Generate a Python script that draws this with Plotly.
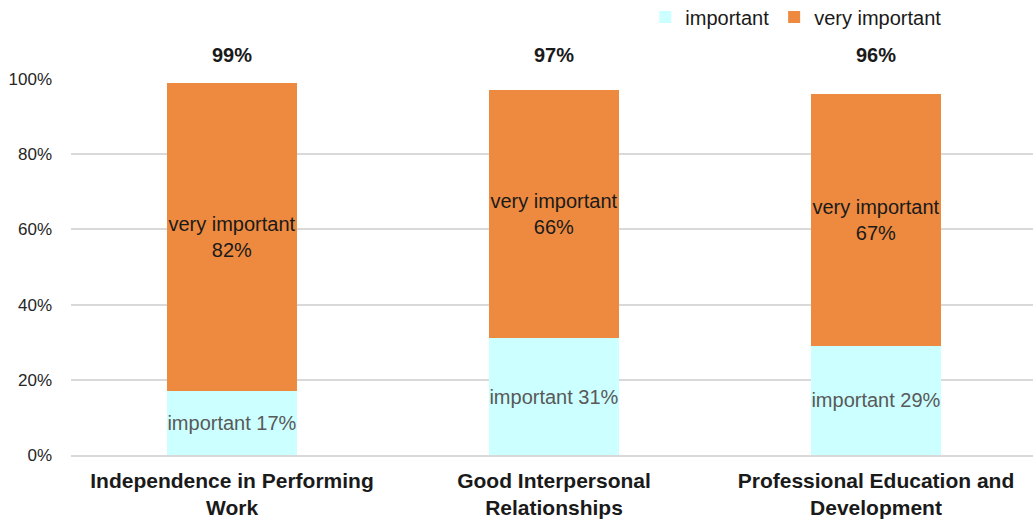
import plotly.graph_objects as go

categories = ["Independence in Performing<br>Work",
              "Good Interpersonal<br>Relationships",
              "Professional Education and<br>Development"]
important = [17, 31, 29]
very_important = [82, 66, 67]
totals = [99, 97, 96]
y_ticks = [0, 20, 40, 60, 80, 100]
y_tick_labels = ["0%", "20%", "40%", "60%", "80%", "100%"]

FONT = "Liberation Sans, Arial, sans-serif"

fig = go.Figure()
fig.add_trace(go.Bar(
    x=categories, y=important, name="important",
    marker=dict(color="#CCFFFF", line=dict(width=0)),
    width=0.404,
    text=[f"important {v}%" for v in important],
    textposition="inside", insidetextanchor="middle", textangle=0,
    constraintext="none",
    textfont=dict(family=FONT, size=20, color="#595959"),
    hoverinfo="skip",
))
fig.add_trace(go.Bar(
    x=categories, y=very_important, name="very important",
    marker=dict(color="#EE8A3F", line=dict(width=0)),
    width=0.404,
    text=[f"very important<br>{v}%" for v in very_important],
    textposition="inside", insidetextanchor="middle", textangle=0,
    constraintext="none",
    textfont=dict(family=FONT, size=20, color="#1a1a1a"),
    hoverinfo="skip",
))

for c, t in zip(categories, totals):
    fig.add_annotation(x=c, y=1.065, text=f"<b>{t}%</b>", showarrow=False,
                       font=dict(family=FONT, size=20, color="#1a1a1a"),
                       xref="x", yref="paper", yanchor="middle")

fig.update_layout(
    barmode="stack",
    width=1033, height=520,
    margin=dict(l=71, r=0, t=79, b=65),
    paper_bgcolor="white", plot_bgcolor="white",
    font=dict(family=FONT, color="#1a1a1a"),
    legend=dict(orientation="h", x=0.597, y=1 - 17 / 520, yref="container",
                xanchor="left", yanchor="middle",
                font=dict(family=FONT, size=20, color="#1a1a1a"),
                traceorder="normal", itemwidth=30),
    xaxis=dict(range=[-0.5, 2.4876], showgrid=False, showline=True,
               linecolor="#D9D9D9", linewidth=1.5, ticks="",
               ticklabelstandoff=6, automargin=False,
               tickfont=dict(family=FONT, size=21, color="#1a1a1a"),
               tickprefix="<b>", ticksuffix="</b>"),
    yaxis=dict(range=[0, 100], tickvals=y_ticks, ticktext=y_tick_labels,
               showgrid=True, gridcolor="#D9D9D9", gridwidth=1.5,
               zeroline=False, showline=False, ticks="",
               ticklabelstandoff=18, automargin=False,
               tickfont=dict(family=FONT, size=17, color="#262626")),
)

fig.write_html("out.html")
